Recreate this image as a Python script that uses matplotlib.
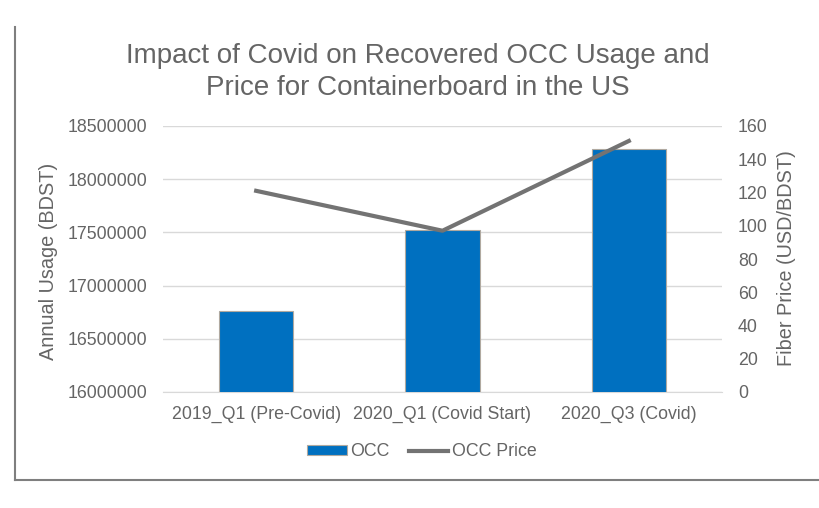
import matplotlib.pyplot as plt
from matplotlib.lines import Line2D
import numpy as np

plt.rcParams['font.family'] = ['Liberation Sans', 'DejaVu Sans']

categories = ['2019_Q1 (Pre-Covid)', '2020_Q1 (Covid Start)', '2020_Q3 (Covid)']
usage = [16760000, 17520000, 18280000]
price = [121, 97, 151]
usage_ticks = [16000000, 16500000, 17000000, 17500000, 18000000, 18500000]
price_ticks = [0, 20, 40, 60, 80, 100, 120, 140, 160]

grey_text = '#656565'
line_grey = '#737373'
fs = 12.8

fig = plt.figure(figsize=(8.19, 5.08), dpi=100)
ax = fig.add_axes([163 / 819, 1 - 392 / 508, 559 / 819, 266 / 508])
ax2 = ax.twinx()

x = np.arange(len(categories))
bars = ax.bar(x, usage, width=0.4, color='#0070C0', edgecolor='#B0A9A0',
              linewidth=0.8, zorder=3, label='OCC')
ax.set_ylim(16000000, 18500000)
ax.set_xlim(-0.5, 2.5)
ax.set_yticks(usage_ticks)
ax.set_yticklabels([str(t) for t in usage_ticks])
ax.grid(axis='y', color='#D9D9D9', linewidth=1, zorder=0)
ax.set_axisbelow(True)
ax.set_xticks(x)
ax.set_xticklabels(categories)

ax2.plot(x, price, color=line_grey, linewidth=3, zorder=4, label='OCC Price')
ax2.set_ylim(0, 160)
ax2.set_yticks(price_ticks)

for a in (ax, ax2):
    for s in a.spines.values():
        s.set_visible(False)
    a.tick_params(length=0, labelsize=fs, labelcolor=grey_text)
ax.spines['bottom'].set_visible(True)
ax.spines['bottom'].set_color('#D9D9D9')
ax.tick_params(axis='y', pad=11.5)
ax.tick_params(axis='x', pad=10)
ax2.tick_params(axis='y', pad=11.5)

fig.text(48.5 / 819, 1 - 261 / 508, 'Annual Usage (BDST)', rotation=90,
         ha='center', va='center', fontsize=14.3, color=grey_text)
fig.text(787 / 819, 1 - 258 / 508, 'Fiber Price (USD/BDST)', rotation=90,
         ha='center', va='center', fontsize=14.3, color=grey_text)

fig.text(418 / 819, 1 - 63 / 508, 'Impact of Covid on Recovered OCC Usage and',
         ha='center', va='baseline', fontsize=20, color=grey_text)
fig.text(418 / 819, 1 - 95 / 508, 'Price for Containerboard in the US',
         ha='center', va='baseline', fontsize=20, color=grey_text)

handles = [bars, Line2D([], [], color=line_grey, linewidth=3)]
fig.legend(handles, ['OCC', 'OCC Price'], loc='center',
           bbox_to_anchor=(422 / 819, 1 - 452 / 508),
           ncol=2, frameon=False, fontsize=fs, labelcolor=grey_text,
           handlelength=2.2, handletextpad=0.2, columnspacing=1.1,
           handleheight=0.5, borderpad=0)

# outer border lines of the screenshot
fig.add_artist(Line2D([15.5 / 819, 15.5 / 819], [1 - 27 / 508, 1 - 480 / 508],
                      color='#7F7F7F', linewidth=1.5, transform=fig.transFigure))
fig.add_artist(Line2D([15.5 / 819, 1.0], [1 - 480 / 508, 1 - 480 / 508],
                      color='#7F7F7F', linewidth=1.5, transform=fig.transFigure))

fig.savefig('out.png', dpi=100)
